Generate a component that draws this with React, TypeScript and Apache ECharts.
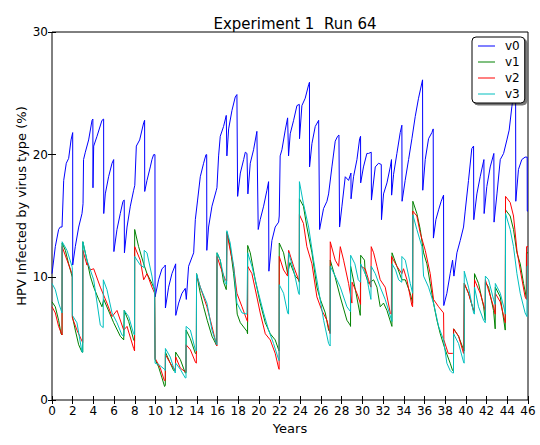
import React, { useEffect, useRef } from "react";
import * as echarts from "echarts";

const seriesNames = ["v0", "v1", "v2", "v3"];
const seriesColors = ["#0000ff", "#008000", "#ff0000", "#00bfbf"];

const v0: number[][] = [
  [0, 10.3], [0.32, 12.5], [0.64, 13.9], [0.8, 14.1], [0.97, 14.1], [1.13, 17.9], [1.38, 19.3], [1.61, 19.7], [1.84, 21.2], [2.0, 21.8],
  [2.0, 11.0], [2.25, 12.5], [2.58, 14.1], [2.9, 15.2], [3.0, 16.0], [3.05, 19.6], [3.22, 20.2], [3.54, 21.2], [3.87, 22.8], [3.95, 22.9],
  [3.96, 17.3], [4.03, 20.7], [4.35, 21.5], [4.83, 22.8], [4.99, 22.9], [5.0, 15.2], [5.15, 16.8], [5.47, 18.2], [5.8, 19.3], [5.96, 19.6],
  [5.98, 12.1], [6.28, 13.9], [6.6, 15.2], [6.86, 16.2], [6.98, 16.3], [7.0, 12.0], [7.25, 14.1], [7.57, 15.8], [7.89, 17.1], [8.0, 17.5],
  [8.15, 20.7], [8.47, 21.2], [8.86, 22.6], [8.95, 22.8], [8.96, 17.0], [9.18, 17.9], [9.5, 19.0], [9.66, 19.6], [9.82, 20.0], [9.95, 20.0],
  [9.96, 8.4], [10.3, 9.8], [10.63, 10.7], [10.88, 10.9], [10.95, 11.0], [10.96, 7.5], [11.27, 9.2], [11.59, 10.3], [11.91, 11.0], [11.95, 11.1],
  [11.96, 6.9], [12.24, 7.9], [12.56, 8.7], [12.88, 9.1], [12.98, 8.2], [13.2, 10.9], [13.69, 12.0], [13.85, 14.7], [14.07, 16.3], [14.33, 18.2],
  [14.65, 19.3], [14.88, 20.0], [14.95, 20.0], [14.96, 12.2], [15.13, 14.1], [15.46, 15.8], [15.88, 17.1], [15.94, 17.3], [16.1, 19.9], [16.26, 21.5],
  [16.58, 22.3], [16.84, 23.2], [16.9, 19.9], [17.07, 22.1], [17.39, 23.6], [17.71, 24.7], [17.87, 24.9], [17.94, 16.6], [18.2, 18.5], [18.52, 19.6],
  [18.68, 20.2], [18.84, 20.1], [18.93, 16.8], [19.16, 19.3], [19.48, 20.4], [19.8, 21.9], [19.93, 13.9], [20.12, 14.7], [20.45, 15.8], [20.77, 17.1],
  [20.93, 17.8], [20.96, 10.5], [21.25, 13.0], [21.57, 14.1], [21.9, 14.5], [21.96, 15.0], [22.05, 19.9], [22.22, 20.4], [22.54, 22.0], [22.77, 23.0],
  [22.86, 19.9], [23.02, 21.7], [23.35, 22.8], [23.67, 24.0], [23.9, 24.1], [23.92, 21.3], [24.15, 24.0], [24.47, 24.6], [24.8, 25.7], [24.88, 25.9],
  [24.89, 19.0], [25.12, 20.9], [25.44, 22.3], [25.77, 22.8], [25.83, 22.8], [25.86, 13.9], [26.24, 15.6], [26.57, 16.2], [26.73, 16.8], [27.05, 19.0],
  [27.37, 21.1], [27.6, 21.5], [27.73, 21.6], [27.79, 14.1], [28.02, 15.8], [28.34, 18.2], [28.66, 17.9], [28.89, 18.5], [28.9, 16.4], [29.14, 18.2],
  [29.47, 19.6], [29.73, 21.3], [29.82, 21.5], [29.83, 17.7], [30.1, 19.0], [30.43, 20.1], [30.59, 20.1], [30.85, 20.2], [30.87, 16.3], [31.24, 19.0],
  [31.56, 19.3], [31.82, 19.2], [31.84, 14.7], [32.04, 16.8], [32.37, 17.7], [32.69, 19.0], [32.81, 19.6], [32.82, 16.7], [33.01, 18.4], [33.33, 20.1],
  [33.65, 21.8], [33.81, 22.4], [33.83, 16.2], [34.13, 17.9], [34.46, 19.6], [34.78, 21.3], [35.1, 23.1], [35.42, 24.6], [35.81, 26.1], [35.83, 17.1],
  [36.07, 19.6], [36.39, 21.3], [36.71, 21.8], [36.84, 22.1], [36.86, 13.2], [37.1, 14.7], [37.36, 15.5], [37.61, 16.2], [37.84, 16.7], [37.86, 7.7],
  [38.16, 8.7], [38.48, 10.3], [38.71, 11.4], [38.84, 10.1], [39.13, 12.0], [39.45, 13.0], [39.77, 14.1], [39.93, 15.4], [40.25, 17.9], [40.57, 20.5],
  [40.74, 20.7], [40.76, 14.7], [41.06, 16.8], [41.38, 18.2], [41.74, 19.6], [41.76, 15.2], [42.02, 17.4], [42.35, 19.0], [42.7, 20.1], [42.72, 14.5],
  [43.0, 16.8], [43.32, 19.6], [43.64, 20.1], [43.96, 21.2], [44.18, 22.0], [44.44, 23.9], [44.7, 25.5], [44.8, 25.8], [44.82, 16.2], [45.08, 18.8],
  [45.4, 19.6], [45.72, 19.8], [45.92, 19.8], [45.93, 15.4], [46.0, 15.4],
];

const v1: number[][] = [
  [0, 8.0], [0.32, 7.6], [0.64, 6.5], [0.87, 5.4], [0.97, 5.3], [0.98, 12.8], [1.29, 12.2], [1.61, 11.1], [1.93, 10.1], [1.96, 10.0],
  [1.97, 6.8], [2.25, 5.7], [2.58, 4.5], [2.9, 3.9], [2.97, 3.9], [2.98, 12.9], [3.38, 11.4], [3.7, 10.1], [4.03, 9.2], [4.51, 8.2],
  [4.83, 7.6], [5.0, 8.2], [5.96, 6.3], [6.6, 5.2], [6.93, 4.9], [6.98, 7.3], [7.41, 6.4], [7.89, 4.9], [7.98, 4.8], [7.99, 13.9],
  [8.37, 12.5], [8.86, 11.1], [9.18, 10.3], [9.66, 9.5], [9.92, 9.0], [9.96, 3.3], [10.3, 2.7], [10.63, 1.8], [10.88, 1.1], [10.95, 1.2],
  [10.96, 3.9], [11.43, 3.0], [11.75, 2.4], [11.93, 2.5], [11.95, 3.9], [12.4, 3.3], [12.88, 2.2], [12.95, 2.2], [12.96, 5.7], [13.37, 5.0],
  [13.85, 3.8], [13.95, 3.8], [13.97, 10.3], [14.33, 8.7], [14.65, 7.6], [15.0, 6.5], [15.46, 5.2], [15.88, 4.5], [15.94, 4.5], [15.95, 12.0],
  [16.26, 11.4], [16.58, 9.6], [16.84, 9.0], [16.9, 13.7], [17.22, 12.5], [17.55, 10.3], [17.71, 9.0], [17.9, 7.0], [18.2, 6.3], [18.84, 5.6],
  [18.9, 5.4], [18.91, 12.6], [19.16, 12.0], [19.64, 9.8], [20.12, 7.9], [20.61, 6.3], [21.09, 5.4], [21.57, 4.9], [21.9, 4.1], [21.95, 4.0],
  [21.96, 12.8], [22.38, 12.0], [22.77, 10.3], [23.0, 11.2], [23.51, 10.1], [23.83, 9.8], [23.9, 9.6], [23.91, 16.4], [24.3, 15.8], [24.63, 14.1],
  [25.12, 12.0], [25.6, 9.2], [25.93, 8.2], [26.41, 7.1], [26.73, 5.7], [26.88, 5.5], [26.89, 11.4], [27.37, 10.0], [27.86, 8.4], [28.5, 6.5],
  [28.82, 6.1], [28.85, 6.0], [28.86, 10.9], [29.27, 9.2], [29.79, 6.9], [29.82, 6.9], [29.83, 11.8], [30.2, 11.4], [30.27, 10.3], [30.59, 9.5],
  [31.08, 9.8], [31.4, 9.2], [31.72, 7.6], [32.04, 7.9], [32.37, 7.3], [32.85, 6.0], [32.86, 12.0], [33.33, 10.9], [33.81, 9.8], [34.14, 9.8],
  [34.62, 8.7], [34.85, 7.9], [34.87, 16.2], [35.26, 15.2], [35.59, 13.9], [35.91, 12.0], [36.23, 11.1], [36.55, 9.5], [36.87, 7.9], [37.2, 6.5],
  [37.52, 5.4], [38.0, 4.1], [38.48, 3.0], [38.71, 2.4], [38.8, 2.4], [38.81, 5.8], [39.29, 5.2], [39.77, 4.1], [39.83, 4.0], [39.84, 9.5],
  [40.25, 8.7], [40.74, 7.3], [40.82, 7.2], [40.83, 10.3], [41.22, 9.5], [41.71, 7.6], [41.87, 6.5], [41.88, 9.6], [42.19, 9.2], [42.67, 7.3],
  [42.83, 5.8], [42.84, 9.2], [43.32, 8.4], [43.8, 5.7], [43.82, 5.7], [43.83, 15.5], [44.28, 15.0], [44.6, 13.9], [44.93, 12.0], [45.25, 11.1],
  [45.57, 9.5], [45.83, 8.4], [45.85, 12.0], [46.0, 12.0],
];

const v2: number[][] = [
  [0, 7.6], [0.32, 7.1], [0.64, 6.0], [0.97, 5.3], [0.98, 12.5], [1.45, 11.4], [1.93, 10.3], [1.96, 10.2], [1.97, 6.7], [2.41, 5.7],
  [2.9, 4.8], [2.97, 4.7], [2.98, 12.2], [3.38, 11.0], [3.4, 11.2], [3.7, 10.6], [4.03, 10.7], [4.67, 9.2], [5.31, 7.9], [5.8, 6.8],
  [6.28, 7.3], [6.93, 5.7], [7.25, 6.0], [7.89, 4.2], [7.98, 4.0], [7.99, 12.5], [8.53, 11.4], [8.86, 9.8], [9.18, 10.3], [9.66, 9.2],
  [9.92, 8.7], [9.96, 3.4], [10.47, 2.6], [10.85, 1.6], [10.95, 1.6], [10.96, 3.7], [11.43, 3.0], [11.91, 2.4], [11.95, 2.4], [11.96, 3.5],
  [12.4, 2.6], [12.88, 2.3], [12.95, 2.3], [12.96, 4.5], [13.37, 4.1], [13.85, 3.1], [13.95, 3.0], [13.97, 10.2], [14.33, 9.2], [14.97, 7.6],
  [15.46, 6.0], [15.88, 4.5], [15.94, 4.4], [15.95, 11.7], [16.26, 10.9], [16.74, 9.8], [16.88, 9.7], [16.9, 13.6], [17.22, 12.2], [17.55, 10.9],
  [17.87, 8.7], [18.36, 7.6], [18.84, 6.5], [18.9, 6.4], [18.91, 10.9], [19.32, 10.3], [19.8, 8.4], [20.12, 7.1], [20.61, 5.4], [21.09, 4.9],
  [21.57, 3.8], [21.9, 2.6], [21.95, 2.5], [21.96, 11.7], [22.38, 10.6], [22.77, 10.1], [22.87, 12.2], [23.35, 10.9], [23.83, 9.8], [23.9, 9.7],
  [23.91, 15.1], [24.3, 14.4], [24.63, 12.5], [25.12, 11.1], [25.6, 8.4], [26.08, 7.3], [26.57, 6.5], [26.88, 5.4], [26.89, 12.9], [27.37, 11.4],
  [27.7, 10.9], [27.86, 12.5], [28.18, 11.4], [28.66, 9.5], [28.98, 7.9], [29.0, 9.6], [29.47, 8.7], [29.79, 7.9], [29.82, 7.8], [29.83, 10.9],
  [30.27, 10.7], [30.59, 9.8], [30.82, 9.2], [30.85, 12.5], [31.08, 12.0], [31.4, 10.9], [31.72, 9.8], [32.2, 9.2], [32.69, 7.1], [32.8, 7.0],
  [32.81, 11.7], [33.33, 10.9], [33.81, 10.3], [33.97, 10.7], [34.3, 9.8], [34.78, 7.7], [34.85, 7.6], [34.87, 15.4], [35.26, 15.0], [35.59, 13.6],
  [36.07, 12.2], [36.55, 10.3], [36.87, 8.2], [37.36, 7.6], [37.84, 7.1], [37.87, 4.9], [38.29, 3.8], [38.71, 3.8], [38.8, 3.8], [38.81, 5.8],
  [39.29, 5.2], [39.77, 3.8], [39.83, 3.8], [39.84, 9.5], [40.25, 8.7], [40.74, 7.3], [40.82, 7.3], [40.83, 9.8], [41.38, 8.7], [41.87, 7.3],
  [41.88, 9.8], [42.67, 7.6], [42.83, 7.0], [42.84, 8.7], [43.32, 8.0], [43.8, 6.3], [43.82, 6.3], [43.83, 16.6], [44.28, 16.1], [44.6, 15.0],
  [44.93, 12.2], [45.25, 10.6], [45.72, 8.4], [45.85, 8.2], [45.86, 12.5], [46.0, 12.5],
];

const v3: number[][] = [
  [0, 9.5], [0.32, 9.0], [0.64, 7.9], [0.97, 7.1], [0.98, 12.9], [1.45, 12.2], [1.93, 10.9], [1.96, 10.8], [1.97, 6.9], [2.41, 6.3],
  [2.9, 3.9], [2.97, 3.9], [2.98, 12.9], [3.38, 11.4], [4.03, 9.8], [4.67, 6.1], [4.95, 5.9], [4.96, 9.8], [5.31, 9.0], [5.8, 7.1],
  [6.28, 6.3], [6.76, 5.3], [6.97, 5.2], [6.98, 7.3], [7.41, 6.8], [7.89, 5.4], [7.98, 5.3], [7.99, 11.7], [8.53, 11.0], [8.9, 10.8],
  [8.91, 12.2], [9.18, 12.0], [9.66, 10.1], [9.92, 8.7], [9.96, 3.0], [10.3, 2.9], [10.88, 2.5], [10.95, 2.4], [10.96, 4.2], [11.43, 3.5],
  [11.91, 2.2], [11.95, 2.2], [11.96, 3.0], [12.4, 2.5], [12.88, 1.8], [12.95, 1.8], [12.96, 6.0], [13.37, 5.7], [13.85, 4.1], [13.95, 4.0],
  [13.97, 10.3], [14.33, 9.2], [14.97, 7.9], [15.46, 5.7], [15.88, 4.6], [15.94, 4.5], [15.95, 12.0], [16.26, 11.4], [16.74, 9.5], [16.88, 9.4],
  [16.9, 13.8], [17.22, 12.8], [17.55, 10.9], [17.87, 7.9], [18.36, 7.1], [18.84, 7.0], [18.9, 7.0], [18.91, 12.0], [19.32, 10.9], [19.96, 8.7],
  [20.45, 7.1], [20.93, 5.7], [21.41, 4.6], [21.9, 3.3], [21.95, 3.2], [21.96, 9.4], [22.38, 8.7], [22.77, 7.1], [22.86, 7.0], [22.87, 12.0],
  [23.35, 10.6], [23.83, 8.7], [23.9, 8.6], [23.91, 17.8], [24.3, 16.0], [24.8, 14.1], [25.28, 11.4], [25.76, 9.0], [26.25, 6.5], [26.73, 4.6],
  [26.88, 4.4], [26.89, 10.9], [27.37, 10.1], [27.86, 9.2], [28.5, 7.6], [28.85, 7.2], [28.86, 11.8], [29.27, 11.1], [29.6, 9.8], [29.82, 9.6],
  [29.83, 11.1], [30.43, 10.0], [30.59, 9.2], [30.82, 8.2], [30.85, 10.9], [31.24, 10.3], [31.72, 9.2], [32.2, 8.2], [32.85, 6.4], [32.86, 11.1],
  [33.2, 10.6], [33.5, 9.8], [33.8, 9.6], [33.81, 11.7], [34.14, 11.4], [34.62, 9.5], [34.85, 8.7], [34.87, 15.1], [35.26, 13.9], [35.75, 12.5],
  [35.91, 10.1], [36.39, 9.2], [36.87, 7.9], [37.36, 6.0], [37.84, 4.9], [38.16, 3.0], [38.48, 2.4], [38.71, 2.2], [38.8, 2.2], [38.81, 5.4],
  [39.29, 4.6], [39.77, 3.1], [39.83, 3.0], [39.84, 10.5], [40.25, 9.2], [40.74, 7.1], [40.82, 7.0], [40.83, 9.2], [41.22, 7.6], [41.71, 6.5],
  [41.87, 6.3], [41.88, 10.1], [42.19, 9.8], [42.67, 8.2], [42.83, 7.8], [42.84, 9.5], [43.32, 8.7], [43.8, 7.1], [43.82, 7.0], [43.83, 15.2],
  [44.28, 13.9], [44.6, 12.5], [44.93, 10.3], [45.25, 8.7], [45.72, 7.1], [45.9, 6.8], [45.91, 10.9], [46.0, 10.9],
];

const seriesData = [v0, v1, v2, v3];

const titleText = "Experiment 1  Run 64";
const xName = "Years";
const yName = "HPV Infected by virus type (%)";
const xMin = 0, xMax = 46, xStep = 2;
const yMin = 0, yMax = 30, yStep = 10;

const FONT = "DejaVu Sans";

export default function App() {
  const ref = useRef<HTMLDivElement>(null);
  useEffect(() => {
    document.body.style.margin = "0";
    if (!ref.current) return;
    const chart = echarts.init(ref.current, undefined, { renderer: "svg" });
    const tickStyle = { inside: true, length: 4, lineStyle: { color: "#000", width: 1 } };
    const label = { color: "#000", fontFamily: FONT, fontSize: 12 };
    chart.setOption({
      animation: false,
      backgroundColor: "#fff",
      textStyle: { fontFamily: FONT },
      title: {
        text: titleText,
        left: 290,
        top: 11,
        textAlign: "center",
        textStyle: { fontFamily: FONT, fontSize: 15, fontWeight: "normal", color: "#000" },
      },
      grid: { left: 52, right: 12, top: 32, bottom: 45, show: true, borderColor: "#000", borderWidth: 1, backgroundColor: "#fff" },
      legend: {
        data: seriesNames,
        orient: "vertical",
        left: 472,
        top: 37,
        icon: "rect",
        itemWidth: 17,
        itemHeight: 1,
        itemGap: 2,
        padding: [2, 5, 2, 6],
        backgroundColor: "#fff",
        borderColor: "#000",
        borderWidth: 1,
        borderRadius: 4,
        shadowColor: "rgba(0,0,0,0.55)",
        shadowOffsetX: 2,
        shadowOffsetY: 2,
        shadowBlur: 0,
        textStyle: { fontFamily: FONT, fontSize: 12, color: "#000", lineHeight: 14, padding: [0, 0, 0, 5] },
      },
      graphic: [
        {
          type: "text",
          x: 21,
          y: 206,
          rotation: Math.PI / 2,
          style: {
            text: yName,
            fontFamily: FONT,
            fontSize: 13,
            fill: "#000",
            textAlign: "center",
            textVerticalAlign: "middle",
          },
        },
      ],
      xAxis: [
        {
          type: "value", min: xMin, max: xMax, interval: xStep,
          name: xName, nameLocation: "middle", nameGap: 20,
          nameTextStyle: { ...label, fontSize: 13 },
          axisLine: { show: false }, axisTick: tickStyle, axisLabel: { ...label, margin: 5 },
          splitLine: { show: false },
        },
        {
          type: "value", min: xMin, max: xMax, interval: xStep, position: "top",
          axisLine: { show: false }, axisTick: tickStyle, axisLabel: { show: false },
          splitLine: { show: false },
        },
      ],
      yAxis: [
        {
          type: "value", min: yMin, max: yMax, interval: yStep,
          axisLine: { show: false }, axisTick: tickStyle, axisLabel: { ...label, margin: 4 },
          splitLine: { show: false },
        },
        {
          type: "value", min: yMin, max: yMax, interval: yStep, position: "right",
          axisLine: { show: false }, axisTick: tickStyle, axisLabel: { show: false },
          splitLine: { show: false },
        },
      ],
      series: seriesData.map((d, i) => ({
        name: seriesNames[i],
        type: "line",
        data: d,
        showSymbol: false,
        symbol: "none",
        color: seriesColors[i],
        lineStyle: { color: seriesColors[i], width: 1 },
        xAxisIndex: 0,
        yAxisIndex: 0,
        z: 2 + i,
      })),
    });
    return () => chart.dispose();
  }, []);
  return <div ref={ref} style={{ width: 540, height: 445 }} />;
}
